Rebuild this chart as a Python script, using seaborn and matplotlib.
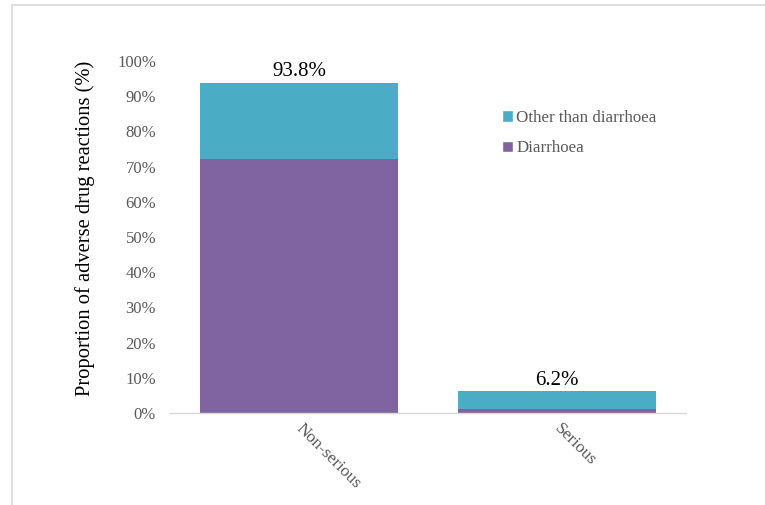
import matplotlib
matplotlib.use("Agg")
import matplotlib.pyplot as plt
import matplotlib.transforms as mtransforms
import seaborn as sns
import pandas as pd
from matplotlib.patches import Rectangle, Patch
from matplotlib.ticker import PercentFormatter

categories = ["Non-serious", "Serious"]
diarrhoea = [72.2, 1.2]
other = [21.6, 5.0]
totals_text = ["93.8%", "6.2%"]
yticks = [0, 10, 20, 30, 40, 50, 60, 70, 80, 90, 100]

c_other = "#4BACC6"
c_diar = "#8064A2"
grey = "#595959"

sns.set_theme(style="white")
plt.rcParams["font.family"] = ["Liberation Serif", "DejaVu Serif"]

df = pd.DataFrame({"cat": categories,
                   "total": [d + o for d, o in zip(diarrhoea, other)],
                   "diar": diarrhoea})

fig = plt.figure(figsize=(7.65, 5.05), dpi=100)
ax = fig.add_axes([170/765, 1-413/505, (686-170)/765, (413-61)/505])

sns.barplot(data=df, x="cat", y="total", color=c_other, width=0.767,
            saturation=1, ax=ax, linewidth=0)
sns.barplot(data=df, x="cat", y="diar", color=c_diar, width=0.767,
            saturation=1, ax=ax, linewidth=0)

ax.set_xlim(-0.5, 1.5)
ax.set_ylim(0, 100)
ax.set_yticks(yticks)
ax.yaxis.set_major_formatter(PercentFormatter(decimals=0))
ax.tick_params(axis="y", labelsize=12, colors=grey, length=0, pad=10)
ax.tick_params(axis="x", labelsize=12.5, colors=grey, length=0, pad=4)
shift = mtransforms.ScaledTranslation(5/100, -2/100, fig.dpi_scale_trans)
for lab in ax.get_xticklabels():
    lab.set_rotation(-45)
    lab.set_ha("left")
    lab.set_va("top")
    lab.set_rotation_mode("anchor")
    lab.set_transform(lab.get_transform() + shift)

ax.set_xlabel("")
ax.set_ylabel("Proportion of adverse drug reactions (%)", fontsize=14.8,
              color="black")
ax.yaxis.set_label_coords(-(170-85)/516, (413-228.5)/352)
ax.yaxis.label.set_va("center")

for s in ["top", "right", "left"]:
    ax.spines[s].set_visible(False)
ax.spines["bottom"].set_color("#D9D9D9")
ax.spines["bottom"].set_linewidth(1)

for i, (t, txt) in enumerate(zip(df["total"], totals_text)):
    ax.annotate(txt, (i, t), xytext=(0, 1), textcoords="offset points",
                ha="center", va="bottom", fontsize=15, color="black")

handles = [Patch(facecolor=c_other, label="Other than diarrhoea"),
           Patch(facecolor=c_diar, label="Diarrhoea")]
fig.legend(handles=handles, loc="upper left",
           bbox_to_anchor=(502/765, 1-110/505), frameon=False,
           fontsize=12.2, handlelength=0.65, handleheight=0.65,
           handletextpad=0.2, labelspacing=0.85, labelcolor=grey,
           borderpad=0, borderaxespad=0)

fig.patches.append(Rectangle((12/765, -0.1), 1.2, 1 - 5/505 + 0.1,
                             transform=fig.transFigure, fill=False,
                             edgecolor="#D9D9D9", linewidth=1.2))

fig.savefig("out.png", dpi=100)
